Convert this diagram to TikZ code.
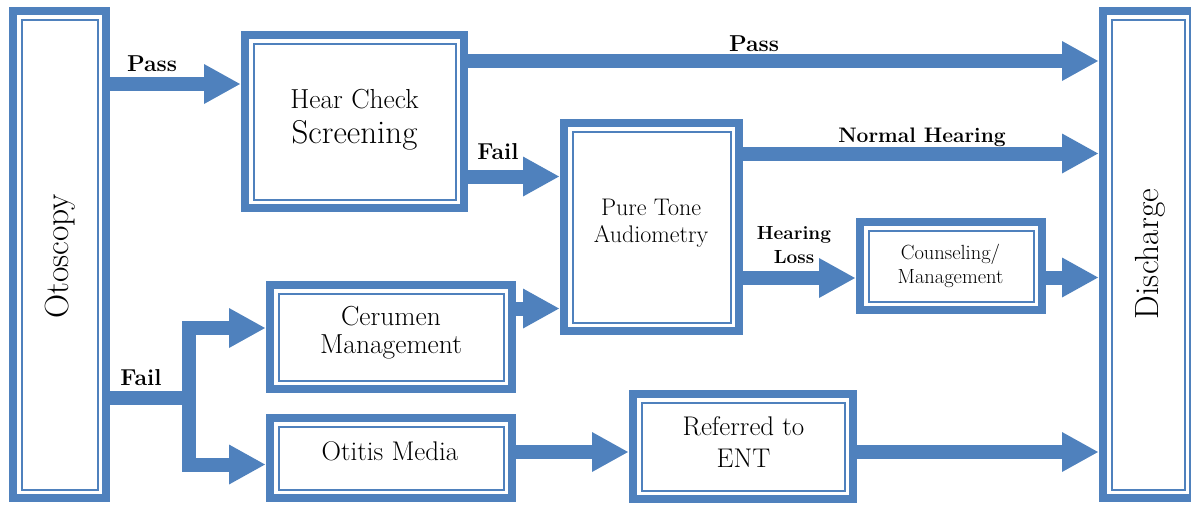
\documentclass[tikz,border=0pt]{standalone}
\usepackage{graphicx}
\usetikzlibrary{arrows.meta}
\definecolor{myblue}{RGB}{79,129,189}
\tikzset{
  box/.style={draw=myblue, line width=8pt, fill=white, inner sep=0pt,
    path picture={\draw[myblue, line width=2pt]
      ([xshift=8.5pt,yshift=-8.5pt]path picture bounding box.north west) rectangle
      ([xshift=-8.5pt,yshift=8.5pt]path picture bounding box.south east);}},
  txt/.style={inner sep=0pt, anchor=base},
  arr/.style={draw=myblue, line width=14pt, shorten >=1pt,
    -{Triangle[length=36pt,width=40pt,line width=0pt]}},
  lnk/.style={draw=myblue, line width=14pt},
  lbl/.style={anchor=base, inner sep=0pt, font=\bfseries\fontsize{23}{26}\selectfont},
}
\begin{document}
\begin{tikzpicture}[x=1pt,y=-1pt]
\useasboundingbox (0,0) rectangle (1191,504);
% boxes
\node[box, minimum width=93pt, minimum height=487pt] (oto) at (59.5,254.5) {};
\node[box, minimum width=90pt, minimum height=487pt] (dis) at (1148,254.5) {};
\node[box, minimum width=219pt, minimum height=173pt] (hear) at (354.5,121.5) {};
\node[box, minimum width=175pt, minimum height=208pt] (pta) at (651.5,227) {};
\node[box, minimum width=182pt, minimum height=88pt] (couns) at (951,266) {};
\node[box, minimum width=242pt, minimum height=104pt] (cer) at (391,337) {};
\node[box, minimum width=242pt, minimum height=80pt] (oti) at (391,458) {};
\node[box, minimum width=220pt, minimum height=105pt] (ent) at (743,446.5) {};
% box texts
\node[inner sep=0pt, font=\fontsize{33.5}{36}\selectfont] (oto-t) at (60,256.5)
  {\rotatebox{90}{Otoscopy}};
\node[inner sep=0pt, font=\fontsize{33.5}{36}\selectfont] (dis-t) at (1150,254)
  {\rotatebox{90}{Discharge}};
\node[txt, font=\fontsize{27.5}{35}\selectfont] (hear-t) at (354.5,108)
  {\begin{tabular}[t]{@{}c@{}}Hear Check\\{\fontsize{33}{35}\selectfont Screening}\end{tabular}};
\node[txt, font=\fontsize{24}{27}\selectfont] (pta-t) at (651,215)
  {\begin{tabular}[t]{@{}c@{}}Pure Tone\\Audiometry\end{tabular}};
\node[txt, font=\fontsize{20.5}{24}\selectfont] (couns-t) at (950.5,259)
  {\begin{tabular}[t]{@{}c@{}}Counseling/\\Management\end{tabular}};
\node[txt, font=\fontsize{27.5}{28}\selectfont] (cer-t) at (391,325)
  {\begin{tabular}[t]{@{}c@{}}Cerumen\\Management\end{tabular}};
\node[txt, font=\fontsize{27}{28}\selectfont] (oti-t) at (390,460) {Otitis Media};
\node[txt, font=\fontsize{27}{32}\selectfont] (ent-t) at (743.5,435)
  {\begin{tabular}[t]{@{}c@{}}Referred to\\ENT\end{tabular}};
% connectors
\draw[arr] (oto.east |- 0,84) -- (hear.west |- 0,84);
\node[lbl] (lpass1) at (152,71) {Pass};
\draw[arr] (hear.east |- 0,61) -- (dis.west |- 0,61);
\node[lbl] (lpass2) at (754,51) {Pass};
\draw[arr] (hear.east |- 0,176.5) -- (pta.west |- 0,176.5);
\node[lbl] (lfail1) at (498,159) {Fail};
\draw[arr] (pta.east |- 0,153.5) -- (dis.west |- 0,153.5);
\node[lbl, font=\bfseries\fontsize{21}{24}\selectfont] (lnorm) at (922,142) {Normal Hearing};
\draw[arr] (pta.east |- 0,278) -- (couns.west |- 0,278);
\node[lbl, font=\bfseries\fontsize{19}{22}\selectfont] (lhear) at (794,239) {Hearing};
\node[lbl, font=\bfseries\fontsize{19}{22}\selectfont] (lloss) at (794,263) {Loss};
\draw[arr] (couns.east |- 0,277.5) -- (dis.west |- 0,277.5);
\draw[arr] (cer.east |- 0,308.5) -- (pta.west |- 0,308.5);
\coordinate (split) at (189,398);
\draw[lnk] (oto.east |- split) -- (split);
\draw[arr] (split) -- (189,328) -- (cer.west |- 0,328);
\draw[arr] ([yshift=7pt]split) -- (189,464.5) -- (oti.west |- 0,464.5);
\node[lbl] (lfail2) at (141,385) {Fail};
\draw[arr] (oti.east |- 0,452) -- (ent.west |- 0,452);
\draw[arr] (ent.east |- 0,452) -- (dis.west |- 0,452);
\end{tikzpicture}
\end{document}
